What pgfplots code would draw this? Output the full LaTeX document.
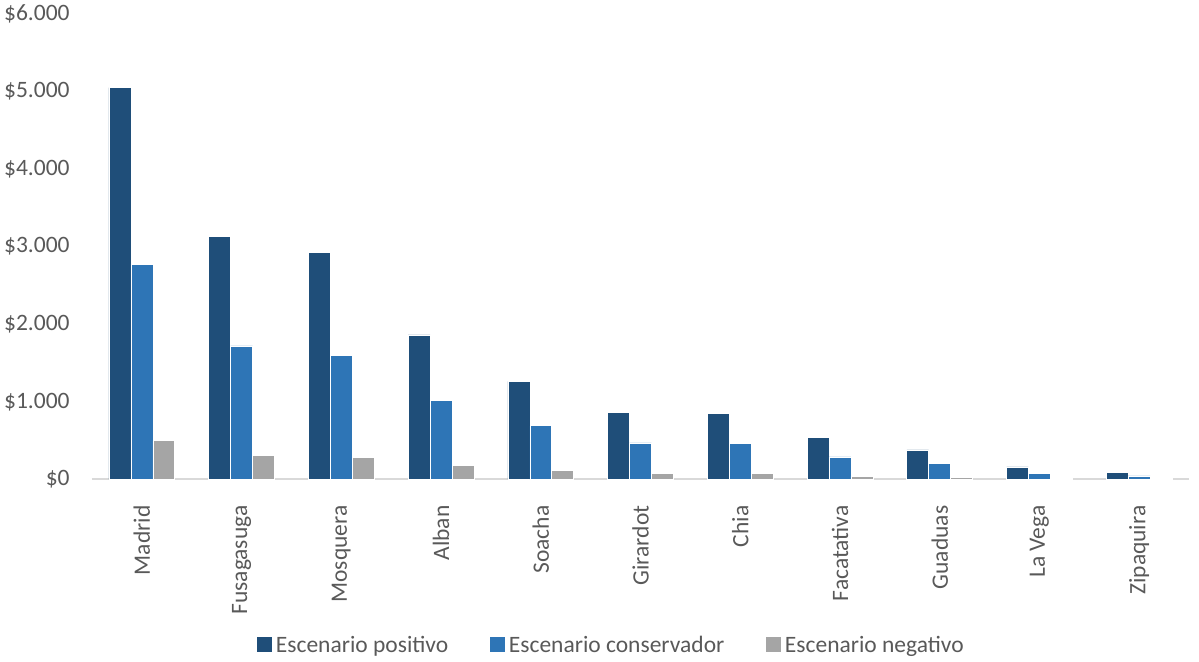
\documentclass[border=0pt]{standalone}
\usepackage{fontspec}
\setmainfont{Carlito}
\usepackage{pgfplots}
\pgfplotsset{compat=1.18}
\definecolor{cpos}{HTML}{1F4E79}
\definecolor{ccon}{HTML}{2E75B6}
\definecolor{cneg}{HTML}{A5A5A5}
\definecolor{txt}{HTML}{595959}
\definecolor{axl}{HTML}{D9D9D9}
\begin{document}
\begin{tikzpicture}
\useasboundingbox (-46pt,-91.35pt) rectangle (553.5pt,239.65pt);
\begin{axis}[
  at={(0,0)}, anchor=south west,
  scale only axis, width=548.5pt, height=232.65pt,
  xmin=-0.5, xmax=10.5, ymin=0, ymax=6000,
  ybar=0pt, bar width=0.22,
  axis x line*=bottom, axis y line*=left,
  separate axis lines,
  x axis line style={axl, line width=0.8pt, -},
  y axis line style={draw=none},
  tick style={draw=none},
  xtick={0,...,10},
  xticklabels={Madrid,Fusagasuga,Mosquera,Alban,Soacha,Girardot,Chia,Facatativa,Guaduas,La Vega,Zipaquira},
  ytick={0,1000,...,6000},
  yticklabels={\$0,\$1.000,\$2.000,\$3.000,\$4.000,\$5.000,\$6.000},
  ticklabel style={font=\fontsize{11.75}{14}\selectfont, text=txt},
  yticklabel style={inner sep=0pt, xshift=-11pt},
  xticklabel style={yshift=-8.7pt, rotate=90, anchor=east, inner sep=0pt},
  legend style={at={(0.4736,-0.358)}, anchor=center, draw=none, fill=none,
    legend columns=3, font=\fontsize{11.75}{14}\selectfont, text=txt,
    nodes={inner sep=1.5pt},
    /tikz/every even column/.append style={column sep=19pt}},
  legend image code/.code={\fill[#1] (0pt,-3.2pt) rectangle (8pt,4.8pt);},
]
\addplot[fill=cpos, draw=white, line width=0.3pt] coordinates {
 (0,5050) (1,3130) (2,2925) (3,1863) (4,1263) (5,867) (6,850) (7,537) (8,378) (9,160) (10,86)};
\addplot[fill=ccon, draw=white, line width=0.3pt] coordinates {
 (0,2775) (1,1720) (2,1600) (3,1020) (4,690) (5,470) (6,464) (7,290) (8,200) (9,80) (10,43)};
\addplot[fill=cneg, draw=white, line width=0.3pt] coordinates {
 (0,500) (1,310) (2,283) (3,180) (4,116) (5,81) (6,77) (7,40) (8,26) (9,14) (10,8)};
\legend{Escenario positivo, Escenario conservador, Escenario negativo}
\end{axis}
\end{tikzpicture}
\end{document}
